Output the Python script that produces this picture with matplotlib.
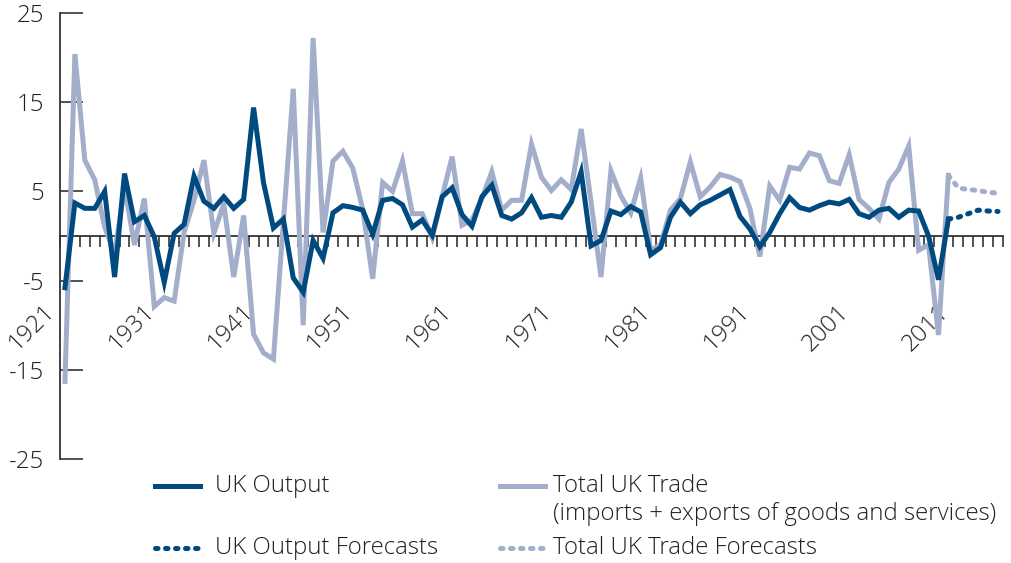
import matplotlib
matplotlib.use('Agg')
import matplotlib.pyplot as plt
from matplotlib.lines import Line2D
from matplotlib import transforms
import numpy as np

# annual % change, 1921-2010 actual
years = np.arange(1921, 2011)
uk_output = [
    -5.8, 3.7, 3.1, 3.1, 5.0, -4.6, 7.0, 1.6, 2.3, -0.1,
    -5.2, 0.3, 1.3, 6.7, 3.9, 3.1, 4.4, 3.1, 4.1, 14.4,
    6.0, 0.9, 1.9, -4.7, -6.3, -0.5, -2.5, 2.6, 3.4, 3.2,
    2.9, 0.2, 4.0, 4.2, 3.5, 1.0, 1.8, 0.1, 4.4, 5.4,
    2.4, 1.1, 4.4, 5.7, 2.3, 1.9, 2.6, 4.3, 2.1, 2.3,
    2.1, 3.8, 7.2, -1.1, -0.5, 2.8, 2.4, 3.3, 2.7, -2.1,
    -1.3, 2.1, 3.8, 2.5, 3.5, 4.0, 4.6, 5.2, 2.2, 0.8,
    -1.2, 0.4, 2.5, 4.3, 3.2, 2.9, 3.4, 3.8, 3.6, 4.1,
    2.5, 2.1, 2.9, 3.1, 2.1, 2.9, 2.8, 0.0, -4.9, 1.9,
]
uk_trade = [
    -16.3, 20.4, 8.5, 6.3, 1.0, -2.0, 5.5, -1.0, 4.2, -7.9,
    -6.9, -7.3, 0.4, 4.0, 8.5, 0.3, 3.6, -4.6, 2.3, -11.0,
    -13.1, -13.8, 1.5, 16.5, -10.0, 22.2, 0.4, 8.4, 9.5, 7.6,
    3.0, -4.8, 6.0, 5.0, 8.4, 2.5, 2.5, -0.2, 4.4, 8.9,
    1.2, 1.8, 4.2, 7.2, 2.9, 4.0, 4.0, 10.3, 6.6, 5.1,
    6.3, 5.2, 12.0, 3.8, -4.6, 7.3, 4.5, 2.6, 6.5, -1.6,
    -1.0, 2.9, 4.2, 8.3, 4.4, 5.5, 6.9, 6.6, 6.1, 3.1,
    -2.3, 5.6, 4.0, 7.7, 7.5, 9.3, 9.0, 6.2, 5.9, 9.1,
    4.1, 3.1, 1.9, 6.0, 7.5, 10.1, -1.6, -1.0, -11.1, 6.8,
]
# forecasts, joined to the last actual year
fc_years = np.arange(2010, 2016)
uk_output_fc = [1.9, 2.1, 2.5, 2.9, 2.8, 2.75]
uk_trade_fc = [6.8, 5.4, 5.2, 5.1, 4.9, 4.8]

label_years = np.arange(1921, 2012, 10)
ytick_vals = [-25, -15, -5, 5, 15, 25]

dark = '#004A80'
light = '#A3AECB'
txt_col = '#231F20'
W, H = 1011, 563

plt.rcParams['font.family'] = ['Open Sans', 'DejaVu Sans']
plt.rcParams['font.weight'] = 'light'
plt.rcParams['font.size'] = 17.3

fig = plt.figure(figsize=(W / 100, H / 100), dpi=100)
ax = fig.add_axes([60 / W, 1 - 459 / H, (1003 - 60) / W, (459 - 13) / H])

lw = 3.6
dots = (0, (0.5, 1.5))
ax.plot(years, uk_trade, color=light, lw=lw, solid_joinstyle='miter', zorder=2)
ax.plot(fc_years, uk_trade_fc, color=light, lw=lw, ls=dots,
        dash_capstyle='round', zorder=2)
ax.plot(years, uk_output, color=dark, lw=lw, solid_joinstyle='miter', zorder=3)
ax.plot(fc_years, uk_output_fc, color=dark, lw=lw, ls=dots,
        dash_capstyle='round', zorder=3)

ax.set_xlim(1920.5, 2015.5)
ax.set_ylim(-25, 25)

for s in ['top', 'right']:
    ax.spines[s].set_visible(False)
ax.spines['bottom'].set_position(('data', 0))
ax.spines['bottom'].set_zorder(1)
for s in ['bottom', 'left']:
    ax.spines[s].set_color('#333333')
    ax.spines[s].set_linewidth(1.3)

# year ticks on category boundaries, labels every ten years
ax.set_xticks(np.arange(1920.5, 2016, 1.0))
ax.set_xticklabels([])
ax.set_xticks(label_years, minor=True)
ax.set_xticklabels([str(y) for y in label_years], minor=True, rotation=45, ha='right')
ax.tick_params(axis='x', which='major', direction='out', length=8, width=1.2, color='#333333')
ax.tick_params(axis='x', which='minor', length=0, pad=46, labelcolor=txt_col)
shift = transforms.ScaledTranslation(-5 / 100, 0, fig.dpi_scale_trans)
for lbl in ax.get_xticklabels(minor=True):
    lbl.set_transform(lbl.get_transform() + shift)

ax.set_yticks(ytick_vals)
ax.set_yticklabels([str(v) for v in ytick_vals])
ax.tick_params(axis='y', direction='in', length=16.5, width=1.2, color='#333333',
               pad=11.5, labelcolor=txt_col)

# legend drawn by hand so rows line up across the two columns
def fx(px):
    return px / W

def fy(py):
    return 1 - py / H

entries = [
    (155, 215, 486, dark, '-', 'UK Output'),
    (500, 553, 486, light, '-', 'Total UK Trade'),
    (155, 215, 548, dark, dots, 'UK Output Forecasts'),
    (500, 553, 548, light, dots, 'Total UK Trade Forecasts'),
]
for x0, tx, y0, col, ls, label in entries:
    fig.add_artist(Line2D([fx(x0), fx(x0 + 45)], [fy(y0), fy(y0)], transform=fig.transFigure,
                          color=col, lw=lw, ls=ls, dash_capstyle='round'))
    fig.text(fx(tx), fy(y0), label, ha='left', va='center', color=txt_col)
fig.text(fx(553), fy(514), '(imports + exports of goods and services)', ha='left',
         va='center', color=txt_col)

fig.savefig('out.png', dpi=100)
plt.close()
